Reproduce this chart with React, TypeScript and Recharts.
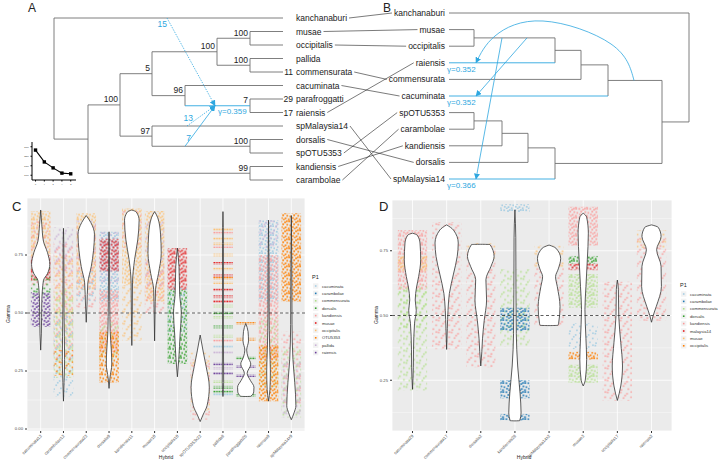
import React from 'react';
import {
  ComposedChart,
  LineChart,
  Line,
  Area,
  Scatter,
  XAxis,
  YAxis,
  CartesianGrid,
  ReferenceLine,
  ReferenceArea,
} from 'recharts';

const FONT = '"Liberation Sans", Arial, Helvetica, sans-serif';
const BLUE = '#2EA7E0';
const EDGE = '#707070';
const PAIRED = ['#A6CEE3', '#1F78B4', '#B2DF8A', '#33A02C', '#FB9A99', '#E31A1C', '#FDBF6F', '#FF7F00', '#CAB2D6', '#6A3D9A'];

// ---------- panels C / D data ----------
const speciesC = ['cacuminata', 'carambolae', 'commensurata', 'dorsalis', 'kandiensis', 'musae', 'occipitalis', 'OTU5353', 'pallida', 'raiensis'];
const speciesD = ['cacuminata', 'carambolae', 'commensurata', 'dorsalis', 'kandiensis', 'malaysia14', 'musae', 'occipitalis'];
const hybridsC = ['cacuminata13', 'carambolae12', 'commensurata23', 'dorsalis9', 'kandiensis11', 'musae10', 'occipitalis10', 'spOTU5353x22', 'pallida8', 'parafroggatti26', 'raiensis9', 'spMalaysia14x9'];
const hybridsD = ['cacuminata29', 'commensurata17', 'dorsalis2', 'kandiensis28', 'spMalaysia14x2', 'musae3', 'occipitalis17', 'raiensis2'];
const ticksC = [0, 0.25, 0.5, 0.75];
const ticksD = [0.25, 0.5, 0.75];
const minorTicks = [0.125, 0.375, 0.625, 0.875];

// violin outlines: [gamma, half width in category units]
const violinsC = [
  [[0.34, 0], [0.41, 0.03], [0.55, 0.05], [0.64, 0.12], [0.67, 0.3], [0.71, 0.4], [0.76, 0.3], [0.81, 0.12], [0.88, 0.05], [0.944, 0]],
  [[0.12, 0], [0.2, 0.025], [0.3, 0.05], [0.4, 0.04], [0.5, 0.025], [0.65, 0.02], [0.8, 0.015], [0.865, 0]],
  [[0.46, 0], [0.53, 0.03], [0.63, 0.07], [0.7, 0.22], [0.77, 0.32], [0.84, 0.36], [0.89, 0.2], [0.92, 0]],
  [[0.175, 0], [0.22, 0.04], [0.28, 0.12], [0.34, 0.1], [0.42, 0.05], [0.55, 0.03], [0.7, 0.02], [0.85, 0]],
  [[0.36, 0], [0.5, 0.02], [0.63, 0.03], [0.73, 0.12], [0.815, 0.26], [0.9, 0.32], [0.935, 0.2], [0.944, 0]],
  [[0.38, 0], [0.5, 0.02], [0.6, 0.04], [0.67, 0.17], [0.757, 0.29], [0.84, 0.26], [0.91, 0.14], [0.937, 0]],
  [[0.225, 0], [0.3, 0.06], [0.41, 0.12], [0.5, 0.17], [0.58, 0.1], [0.7, 0.07], [0.78, 0]],
  [[0.032, 0], [0.06, 0.12], [0.1, 0.3], [0.18, 0.4], [0.27, 0.26], [0.34, 0.12], [0.405, 0]],
  [[0.14, 0], [0.2, 0.03], [0.4, 0.02], [0.6, 0.02], [0.8, 0.02], [0.937, 0]],
  [[0.14, 0], [0.141, 0.22], [0.16, 0.35], [0.18, 0.36], [0.21, 0.2], [0.24, 0.06], [0.28, 0.22], [0.31, 0.1], [0.34, 0.04], [0.38, 0.12], [0.42, 0.1], [0.455, 0]],
  [[0.12, 0], [0.17, 0.06], [0.25, 0.08], [0.35, 0.05], [0.5, 0.025], [0.7, 0.02], [0.9, 0]],
  [[0.04, 0], [0.07, 0.12], [0.1, 0.2], [0.2, 0.15], [0.3, 0.07], [0.45, 0.03], [0.7, 0.02], [0.92, 0]],
];
const violinsD = [
  [[0.215, 0], [0.3, 0.025], [0.37, 0.03], [0.47, 0.06], [0.52, 0.11], [0.56, 0.08], [0.61, 0.12], [0.65, 0.18], [0.715, 0.24], [0.78, 0.22], [0.81, 0.14], [0.818, 0]],
  [[0.369, 0], [0.45, 0.02], [0.52, 0.04], [0.585, 0.08], [0.66, 0.2], [0.728, 0.31], [0.78, 0.34], [0.83, 0.2], [0.85, 0]],
  [[0.305, 0], [0.36, 0.03], [0.41, 0.05], [0.48, 0.1], [0.56, 0.17], [0.638, 0.15], [0.69, 0.3], [0.728, 0.39], [0.774, 0.27], [0.775, 0]],
  [[0.093, 0], [0.094, 0.14], [0.124, 0.18], [0.2, 0.15], [0.305, 0.08], [0.43, 0.04], [0.6, 0.03], [0.8, 0.025], [0.908, 0]],
  [[0.461, 0], [0.462, 0.26], [0.47, 0.28], [0.535, 0.32], [0.612, 0.24], [0.65, 0.19], [0.68, 0.27], [0.72, 0.34], [0.76, 0.2], [0.772, 0]],
  [[0.228, 0], [0.25, 0.06], [0.33, 0.1], [0.41, 0.08], [0.523, 0.05], [0.612, 0.08], [0.715, 0.12], [0.818, 0.15], [0.88, 0.1], [0.895, 0]],
  [[0.172, 0], [0.228, 0.1], [0.305, 0.15], [0.395, 0.1], [0.5, 0.04], [0.6, 0.03], [0.637, 0]],
  [[0.474, 0], [0.5, 0.05], [0.535, 0.14], [0.612, 0.29], [0.69, 0.28], [0.754, 0.15], [0.805, 0.28], [0.84, 0.2], [0.85, 0]],
];

// point clouds: [hybrid, P1 species, gamma low, gamma high, density]
const cloudsC = [
  [1, 'occipitalis', 0.74, 0.94, 'd'], [1, 'kandiensis', 0.62, 0.9, 's'], [1, 'musae', 0.64, 0.75, 'd'],
  [1, 'dorsalis', 0.57, 0.7, 's'], [1, 'raiensis', 0.44, 0.59, 'd'],
  [2, 'pallida', 0.68, 0.87, 's'], [2, 'kandiensis', 0.3, 0.8, 's'], [2, 'occipitalis', 0.35, 0.75, 's'],
  [2, 'commensurata', 0.22, 0.6, 's'], [2, 'cacuminata', 0.14, 0.5, 's'], [2, 'OTU5353', 0.23, 0.34, 's'],
  [3, 'occipitalis', 0.6, 0.93, 'd'], [3, 'kandiensis', 0.52, 0.88, 's'], [3, 'pallida', 0.72, 0.9, 's'], [3, 'cacuminata', 0.55, 0.68, 's'],
  [4, 'cacuminata', 0.55, 0.85, 'd'], [4, 'pallida', 0.62, 0.85, 's'], [4, 'musae', 0.68, 0.82, 'd'],
  [4, 'kandiensis', 0.33, 0.6, 'd'], [4, 'commensurata', 0.3, 0.46, 's'], [4, 'OTU5353', 0.2, 0.42, 'd'],
  [5, 'occipitalis', 0.62, 0.95, 'd'], [5, 'occipitalis', 0.38, 0.62, 's'], [5, 'kandiensis', 0.78, 0.94, 's'],
  [6, 'occipitalis', 0.55, 0.94, 'd'], [6, 'pallida', 0.62, 0.9, 's'], [6, 'kandiensis', 0.5, 0.72, 's'],
  [7, 'musae', 0.6, 0.78, 'd'], [7, 'dorsalis', 0.28, 0.6, 'd'], [7, 'cacuminata', 0.42, 0.62, 's'],
  [8, 'occipitalis', 0.08, 0.33, 's'], [8, 'kandiensis', 0.04, 0.3, 's'],
  [11, 'cacuminata', 0.55, 0.9, 'd'], [11, 'pallida', 0.78, 0.9, 's'], [11, 'kandiensis', 0.3, 0.75, 'd'],
  [11, 'commensurata', 0.18, 0.48, 's'], [11, 'OTU5353', 0.12, 0.36, 'd'],
  [12, 'OTU5353', 0.55, 0.93, 'd'], [12, 'kandiensis', 0.1, 0.42, 's'], [12, 'commensurata', 0.05, 0.35, 's'], [12, 'pallida', 0.05, 0.3, 's'],
];
// discrete gamma rows (pallida8, parafroggatti26): [species, gamma]
const rowsC9 = [
  ['occipitalis', 0.86], ['kandiensis', 0.845], ['occipitalis', 0.82], ['occipitalis', 0.8], ['kandiensis', 0.786],
  ['occipitalis', 0.75], ['musae', 0.714], ['occipitalis', 0.69], ['musae', 0.66], ['OTU5353', 0.65],
  ['occipitalis', 0.63], ['musae', 0.6], ['musae', 0.57], ['musae', 0.55], ['commensurata', 0.53],
  ['dorsalis', 0.5], ['commensurata', 0.48], ['dorsalis', 0.44], ['commensurata', 0.4], ['kandiensis', 0.38],
  ['cacuminata', 0.355], ['pallida', 0.33], ['raiensis', 0.28], ['pallida', 0.26], ['raiensis', 0.24],
  ['commensurata', 0.205], ['dorsalis', 0.18], ['dorsalis', 0.16], ['cacuminata', 0.15],
];
const rowsC10 = [['OTU5353', 0.455], ['OTU5353', 0.387], ['dorsalis', 0.306], ['raiensis', 0.27], ['raiensis', 0.23], ['dorsalis', 0.144]];

const cloudsD = [
  [1, 'kandiensis', 0.6, 0.83, 'd'], [1, 'musae', 0.67, 0.73, 'd'], [1, 'commensurata', 0.21, 0.62, 's'], [1, 'commensurata', 0.45, 0.6, 's'],
  [2, 'kandiensis', 0.37, 0.86, 's'],
  [3, 'kandiensis', 0.3, 0.77, 's'], [3, 'musae', 0.72, 0.78, 's'],
  [4, 'cacuminata', 0.9, 0.93, 'd'], [4, 'commensurata', 0.38, 0.68, 's'], [4, 'carambolae', 0.44, 0.53, 'd'],
  [4, 'carambolae', 0.18, 0.25, 'd'], [4, 'carambolae', 0.095, 0.12, 'd'],
  [5, 'musae', 0.68, 0.77, 's'], [5, 'kandiensis', 0.46, 0.7, 's'],
  [6, 'kandiensis', 0.77, 0.92, 'd'], [6, 'dorsalis', 0.7, 0.73, 'd'], [6, 'malaysia14', 0.675, 0.7, 'd'],
  [6, 'commensurata', 0.53, 0.66, 'd'], [6, 'cacuminata', 0.37, 0.47, 's'], [6, 'occipitalis', 0.33, 0.36, 'd'], [6, 'commensurata', 0.24, 0.31, 'd'],
  [7, 'kandiensis', 0.17, 0.63, 's'],
  [8, 'musae', 0.76, 0.83, 's'], [8, 'kandiensis', 0.48, 0.8, 's'],
];

// ---------- panels A / B data ----------
const taxaA = ['kanchanaburi', 'musae', 'occipitalis', 'pallida', 'commensurata', 'cacuminata', 'parafroggatti', 'raiensis', 'spMalaysia14', 'dorsalis', 'spOTU5353', 'kandiensis', 'carambolae'];
const taxaB = ['kanchanaburi', 'musae', 'occipitalis', 'raiensis', 'commensurata', 'cacuminata', 'spOTU5353', 'carambolae', 'kandiensis', 'dorsalis', 'spMalaysia14'];

const n = (id, d, s, c) => ({ id, d, s, c });
// node depth = horizontal position of the node
const treeA = n('rootA', 54, '', ['kanchanaburi',
  n('ingroup', 88, '', [
    n('n5', 120, '100', [
      n('ntop', 152, '5', [
        n('n100', 217, '100', [n('mo', 250, '100', ['musae', 'occipitalis']), n('pc', 250, '100', ['pallida', 'commensurata'])]),
        n('n96', 185, '96', ['cacuminata', n('pr', 250, '7', ['parafroggatti', 'raiensis'])]),
      ]),
      n('n97', 152, '97', ['spMalaysia14', n('ds', 250, '100', ['dorsalis', 'spOTU5353'])]),
    ]),
    n('kc', 250, '99', ['kandiensis', 'carambolae']),
  ]),
]);
const treeB = n('rootB', 689, '', ['kanchanaburi',
  n('b1', 662, '', [
    n('b2', 608, '', [n('b3', 581, '', [n('b4', 555, '', [n('bmo', 474, '', ['musae', 'occipitalis']), 'raiensis']), 'commensurata']), 'cacuminata']),
    n('b5', 555, '', [n('b6', 528, '', [n('b7', 502, '', [n('bsc', 474, '', ['spOTU5353', 'carambolae']), 'kandiensis']), 'dorsalis']), 'spMalaysia14']),
  ]),
]);
const tipNumsA = [['commensurata', '11'], ['parafroggatti', '29'], ['raiensis', '17']];
const hybEdgesA = [
  { from: 'kanchanaburi', fx: 167, to: 'pr', tx: 215, label: '15', dashed: true, below: true },
  { from: 'spMalaysia14', fx: 187, to: 'pr', tx: 215, label: '13', dashed: true, below: false },
  { from: 'ds', fx: 185, to: 'pr', tx: 215, label: '7', dashed: false, below: false },
];
const hybEdgesB = [
  { from: 'b2', fx: 634, to: 'raiensis', tx: 476, via: [[611, 44], [543, 21], [495, 36]] },
  { from: 'bmo', fx: 527, to: 'cacuminata', tx: 476, via: [] },
  { from: 'bmo', fx: 502, to: 'spMalaysia14', tx: 476, via: [] },
];
const gammaA = [['pr', 'γ=0.359']];
const gammaB = [['raiensis', 'γ=0.352'], ['cacuminata', 'γ=0.352'], ['spMalaysia14', 'γ=0.366']];
const blueA = ['pr'];
const blueB = ['raiensis', 'cacuminata', 'spMalaysia14'];

// inset: pseudo-likelihood vs number of hybridizations
const hmax = [0, 1, 2, 3, 4];
const negLogPL = [2630, 2380, 2255, 2145, 2130];

// ---------- helpers ----------
function layoutTree(root, order, y0, dy, tipX) {
  const pos = {};
  const segs = [];
  const inner = [];
  order.forEach((t, i) => { pos[t] = { x: tipX, y: y0 + i * dy }; });
  const walk = (nd) => {
    if (typeof nd === 'string') return pos[nd];
    const kids = nd.c.map(walk);
    const ys = kids.map((k) => k.y);
    const lo = Math.min(...ys);
    const hi = Math.max(...ys);
    pos[nd.id] = { x: nd.d, y: (lo + hi) / 2 };
    segs.push({ id: nd.id + ':v', x1: nd.d, y1: lo, x2: nd.d, y2: hi });
    nd.c.forEach((c, i) => segs.push({ id: typeof c === 'string' ? c : c.id, x1: nd.d, y1: kids[i].y, x2: kids[i].x, y2: kids[i].y }));
    if (nd.s) inner.push({ x: nd.d, y: pos[nd.id].y, t: nd.s });
    return pos[nd.id];
  };
  walk(root);
  return { pos, segs, inner };
}

let measureCtx = null;
function textWidth(s) {
  if (!measureCtx) measureCtx = document.createElement('canvas').getContext('2d');
  if (!measureCtx) return s.length * 4.3;
  measureCtx.font = `8.5px ${FONT}`;
  return measureCtx.measureText(s).width;
}

function textLayer(key, data, render) {
  return <Scatter key={key} data={data} isAnimationActive={false} shape={(p) => render(p.cx, p.cy, p.payload)} />;
}

function segLine(key, s, stroke, w) {
  return (
    <ReferenceLine key={key} segment={[{ x: s.x1, y: s.y1 }, { x: s.x2, y: s.y2 }]} stroke={stroke} strokeWidth={w} ifOverflow="visible" />
  );
}

// ---------- panels ----------
function Trees() {
  const A = layoutTree(treeA, taxaA, 18, 13.5, 283);
  const B = layoutTree(treeB, taxaB, 13, 16.6, 449);
  const links = taxaB.filter((t) => taxaA.includes(t)).map((t) => ({
    id: t, x1: 296 + textWidth(t) + 2, y1: A.pos[t].y, x2: 445 - textWidth(t) - 2, y2: B.pos[t].y,
  }));
  const txt = { fontFamily: FONT, fontSize: 8.5, fill: '#222' };
  return (
    <ComposedChart width={720} height={197} margin={{ top: 0, right: 0, bottom: 0, left: 0 }}>
      <XAxis type="number" dataKey="x" domain={[0, 720]} hide />
      <YAxis type="number" dataKey="y" domain={[0, 197]} reversed hide />
      {A.segs.map((s) => segLine('a' + s.id, s, blueA.includes(s.id) ? BLUE : EDGE, 0.9))}
      {B.segs.map((s) => segLine('b' + s.id, s, blueB.includes(s.id) ? BLUE : EDGE, 0.9))}
      {links.map((l) => segLine('l' + l.id, l, '#222', 0.6))}
      {hybEdgesA.map((h, i) => (
        <Line
          key={'ha' + i}
          data={[{ x: h.fx, y: A.pos[h.from].y }, { x: h.tx, y: A.pos[h.to].y }]}
          dataKey="y"
          type="linear"
          stroke={BLUE}
          strokeWidth={0.8}
          strokeDasharray={h.dashed ? '1.4 1.2' : undefined}
          dot={false}
          activeDot={false}
          markerEnd="url(#arrowBlue)"
          isAnimationActive={false}
        />
      ))}
      {hybEdgesB.map((h, i) => (
        <Line
          key={'hb' + i}
          data={[{ x: h.fx, y: B.pos[h.from].y }, ...h.via.map(([x, y]) => ({ x, y })), { x: h.tx, y: B.pos[h.to].y }]}
          dataKey="y"
          type={h.via.length ? 'natural' : 'linear'}
          stroke={BLUE}
          strokeWidth={0.8}
          dot={false}
          activeDot={false}
          markerEnd="url(#arrowBlue)"
          isAnimationActive={false}
        />
      ))}
      {textLayer('tipA', taxaA.map((t) => ({ x: 283, y: A.pos[t].y, t })), (cx, cy, d) => (
        <text x={cx + 13} y={cy + 3} {...txt}>{d.t}</text>
      ))}
      {textLayer('numA', tipNumsA.map(([t, v]) => ({ x: 283, y: A.pos[t].y, t: v })), (cx, cy, d) => (
        <text x={cx + 10} y={cy + 3} textAnchor="end" {...txt}>{d.t}</text>
      ))}
      {textLayer('supA', A.inner, (cx, cy, d) => (
        <text x={cx - 2} y={cy - 2.5} textAnchor="end" {...txt}>{d.t}</text>
      ))}
      {textLayer('tipB', taxaB.map((t) => ({ x: 449, y: B.pos[t].y, t })), (cx, cy, d) => (
        <text x={cx - 4} y={cy + 3} textAnchor="end" {...txt}>{d.t}</text>
      ))}
      {textLayer('hlabA', hybEdgesA.map((h) => ({ x: h.fx, y: A.pos[h.from].y, t: h.label, below: h.below })), (cx, cy, d) => (
        <text x={d.below ? cx : cx + 6} y={d.below ? cy + 9 : cy - 5} textAnchor="end" {...txt} fill={BLUE}>{d.t}</text>
      ))}
      {textLayer('gA', gammaA.map(([id, t]) => ({ x: 218, y: A.pos[id].y, t })), (cx, cy, d) => (
        <text x={cx} y={cy + 8} {...txt} fontSize={8} fill={BLUE}>{d.t}</text>
      ))}
      {textLayer('gB', gammaB.map(([id, t]) => ({ x: 447, y: B.pos[id].y, t })), (cx, cy, d) => (
        <text x={cx} y={cy + 9} {...txt} fontSize={8} fill={BLUE}>{d.t}</text>
      ))}
    </ComposedChart>
  );
}

function Inset() {
  const data = hmax.map((h, i) => ({ h, v: negLogPL[i] }));
  const tick = { fontSize: 2.2, fill: '#000' };
  return (
    <LineChart width={56} height={48} data={data} margin={{ top: 4, right: 2, bottom: 0, left: 0 }}>
      <XAxis dataKey="h" type="number" domain={[-0.4, 4.6]} ticks={hmax} height={6} tick={tick} tickSize={1.5} stroke="#000" />
      <YAxis type="number" domain={[2000, 2800]} ticks={[2100, 2300, 2500, 2700]} width={10} tick={tick} tickSize={1.5} stroke="#000" />
      <Line
        dataKey="v"
        stroke="#000"
        strokeWidth={1.1}
        isAnimationActive={false}
        dot={(p) => <rect key={p.index} x={p.cx - 1.7} y={p.cy - 1.7} width={3.4} height={3.4} fill="#000" />}
      />
    </LineChart>
  );
}

function makeTick(names) {
  return (p) => (
    <g transform={`translate(${p.x},${p.y})`}>
      <text x={0} y={0} dy={2} textAnchor="end" transform="rotate(-45)" fontSize={4.2} fontFamily={FONT} fill="#4D4D4D">
        {names[p.payload.value - 1]}
      </text>
    </g>
  );
}

function ViolinChart({ names, violins, clouds, species, yDomain, ticks, width, height, margin, yWidth }) {
  const cats = names.map((_, i) => i + 1);
  return (
    <ComposedChart layout="vertical" width={width} height={height} margin={margin}>
      <CartesianGrid fill="#EBEBEB" stroke="#FFFFFF" strokeWidth={0.8} />
      <XAxis
        type="number"
        domain={[0.4, names.length + 0.6]}
        ticks={cats}
        interval={0}
        allowDataOverflow
        height={28}
        tick={makeTick(names)}
        tickLine={{ stroke: '#333' }}
        tickSize={2}
        axisLine={false}
      />
      <YAxis
        type="number"
        dataKey="g"
        domain={yDomain}
        ticks={ticks}
        reversed
        allowDataOverflow
        width={yWidth}
        tick={{ fontSize: 4.2, fill: '#4D4D4D', fontFamily: FONT }}
        tickFormatter={(v) => v.toFixed(2)}
        tickLine={{ stroke: '#333' }}
        tickSize={2}
        axisLine={false}
      />
      {minorTicks.map((v) => (
        <ReferenceLine key={'m' + v} y={v} stroke="#FFFFFF" strokeWidth={0.4} zIndex={-90} />
      ))}
      {clouds.map(([h, sp, lo, hi, d], i) => (
        <ReferenceArea
          key={'c' + i}
          x1={h - 0.43}
          x2={h + 0.43}
          y1={lo}
          y2={hi}
          fill={`url(#pt-${species.indexOf(sp)}-${d})`}
          fillOpacity={1}
          stroke="none"
          zIndex={50}
        />
      ))}
      {violins.map((v, i) => (
        <Area
          key={'v' + i}
          data={v.map(([g, w]) => ({ g, r: [i + 1 - w, i + 1 + w] }))}
          dataKey="r"
          type="monotone"
          fill="#FFFFFF"
          fillOpacity={1}
          stroke="#333"
          strokeWidth={0.8}
          dot={false}
          activeDot={false}
          isAnimationActive={false}
          zIndex={150}
        />
      ))}
      <ReferenceLine y={0.5} stroke="#333" strokeWidth={0.8} strokeDasharray="3 2.5" zIndex={500} />
    </ComposedChart>
  );
}

// dot layouts inside one pattern tile (dense / sparse)
const DENSE = [[0.3, 0.4], [4.1, 1.2], [8.2, 0.2], [2.2, 3.1], [6.3, 3.6], [9.4, 4.4], [0.9, 5.9], [4.6, 6.2], [7.8, 7.3], [2.9, 7.6], [5.9, 0.1]];
const SPARSE = [[0.5, 0.8], [6.8, 2.1], [10.9, 5.6], [3.4, 6.4], [8.1, 9.5], [1.2, 10.3], [4.9, 3.9], [11.1, 0.4]];

function Overlay() {
  const label = { fontFamily: FONT, fill: '#222' };
  const legend = (list, x, y) => (
    <g>
      <text x={x} y={y} fontSize={5.5} {...label}>P1</text>
      {list.map((s, i) => (
        <g key={s}>
          <rect x={x + 1} y={y + 4.3 + i * 7.4} width={5.4} height={5.4} fill="#F2F2F2" />
          <rect x={x + 2.9} y={y + 6.2 + i * 7.4} width={1.6} height={1.6} fill={PAIRED[i]} />
          <text x={x + 10} y={y + 8.6 + i * 7.4} fontSize={4.2} {...label} fill="#333">{s}</text>
        </g>
      ))}
    </g>
  );
  return (
    <svg width={720} height={466} style={{ position: 'absolute', left: 0, top: 0, pointerEvents: 'none' }}>
      <defs>
        <marker id="arrowBlue" viewBox="0 0 10 10" refX="9" refY="5" markerWidth="6" markerHeight="6" markerUnits="userSpaceOnUse" orient="auto">
          <path d="M0,0 L10,5 L0,10 z" fill={BLUE} />
        </marker>
        {PAIRED.map((c, k) => (
          <React.Fragment key={c}>
            <pattern id={`pt-${k}-d`} width={11} height={9} patternUnits="userSpaceOnUse" patternTransform={`translate(${k * 2.3} ${k * 1.9})`}>
              {DENSE.map(([x, y], j) => <rect key={j} x={x} y={y} width={1.8} height={1.8} fill={c} fillOpacity={0.9} />)}
            </pattern>
            <pattern id={`pt-${k}-s`} width={13} height={12} patternUnits="userSpaceOnUse" patternTransform={`translate(${k * 3.1} ${k * 2.7})`}>
              {SPARSE.map(([x, y], j) => <rect key={j} x={x} y={y} width={1.7} height={1.7} fill={c} fillOpacity={0.85} />)}
            </pattern>
            <pattern id={`pt-${k}-l`} width={2.6} height={3} patternUnits="userSpaceOnUse">
              <rect x={0.3} y={0.6} width={1.8} height={1.8} fill={c} fillOpacity={0.95} />
            </pattern>
          </React.Fragment>
        ))}
      </defs>
      <text x={28} y={12} fontSize={12} {...label}>A</text>
      <text x={383} y={12} fontSize={12} {...label}>B</text>
      <text x={12} y={211} fontSize={13} {...label}>C</text>
      <text x={379} y={211} fontSize={13} {...label}>D</text>
      <text x={10} y={314} fontSize={5} textAnchor="middle" transform="rotate(-90 10 314)" {...label}>Gamma</text>
      <text x={378} y={315} fontSize={5} textAnchor="middle" transform="rotate(-90 378 315)" {...label}>Gamma</text>
      <text x={166} y={459} fontSize={5} textAnchor="middle" {...label}>Hybrid</text>
      <text x={524} y={459} fontSize={5} textAnchor="middle" {...label}>Hybrid</text>
      {legend(speciesC, 312, 279)}
      {legend(speciesD, 680, 287)}
    </svg>
  );
}

export default function App() {
  const cloudsAllC = [
    ...cloudsC,
    ...rowsC9.map(([sp, g]) => [9, sp, g - 0.006, g + 0.006, 'l']),
    ...rowsC10.map(([sp, g]) => [10, sp, g - 0.006, g + 0.006, 'l']),
  ];
  return (
    <div style={{ position: 'absolute', left: 0, top: 0, width: 720, height: 466, background: '#fff', overflow: 'hidden' }}>
      <div style={{ position: 'absolute', left: 0, top: 0 }}>
        <Trees />
      </div>
      <div style={{ position: 'absolute', left: 22, top: 138 }}>
        <Inset />
      </div>
      <div style={{ position: 'absolute', left: 0, top: 198 }}>
        <ViolinChart
          names={hybridsC}
          violins={violinsC}
          clouds={cloudsAllC}
          species={speciesC}
          yDomain={[-0.0086, 0.9957]}
          ticks={ticksC}
          width={360}
          height={268}
          margin={{ top: 0, right: 55, bottom: 7, left: 12 }}
          yWidth={15}
        />
      </div>
      <div style={{ position: 'absolute', left: 360, top: 200 }}>
        <ViolinChart
          names={hybridsD}
          violins={violinsD}
          clouds={cloudsD}
          species={speciesD}
          yDomain={[0.054, 0.946]}
          ticks={ticksD}
          width={360}
          height={266}
          margin={{ top: 0, right: 48, bottom: 7, left: 12 }}
          yWidth={20}
        />
      </div>
      <Overlay />
    </div>
  );
}
